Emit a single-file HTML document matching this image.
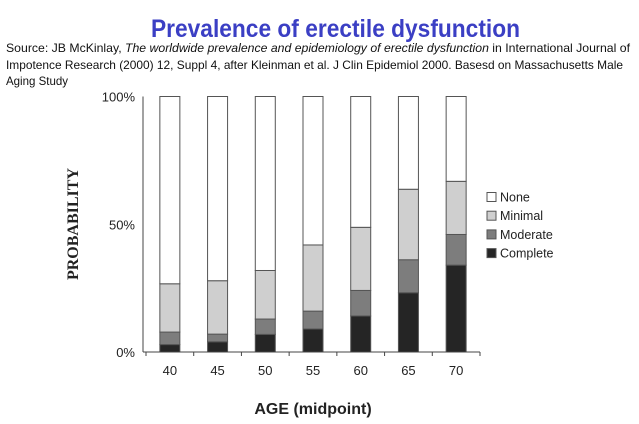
<!DOCTYPE html>
<html><head><meta charset="utf-8"><style>
body{margin:0;background:#fff;}
#wrap{position:relative;width:639px;height:424px;overflow:hidden;font-family:"Liberation Sans",sans-serif;}
</style></head><body>
<div id="wrap">
<svg id="header" width="639" height="90" style="position:absolute;left:0;top:0;" font-family="Liberation Sans, sans-serif">
<text x="151" y="37" textLength="369" lengthAdjust="spacingAndGlyphs" font-size="25" font-weight="bold" fill="#3b3fc4">Prevalence of erectile dysfunction</text>
<text x="6" y="52" textLength="624" lengthAdjust="spacingAndGlyphs" font-size="12" fill="#111">Source: JB McKinlay, <tspan font-style="italic">The worldwide prevalence and epidemiology of erectile dysfunction</tspan> in International Journal of</text>
<text x="6" y="69" textLength="617" lengthAdjust="spacingAndGlyphs" font-size="12" fill="#111">Impotence Research (2000) 12, Suppl 4, after Kleinman et al. J Clin Epidemiol 2000. Basesd on Massachusetts Male</text>
<text x="6" y="85" textLength="62" lengthAdjust="spacingAndGlyphs" font-size="12" fill="#111">Aging Study</text>
</svg>
<svg id="chart" width="639" height="424" style="position:absolute;left:0;top:0;" font-family="Liberation Sans, sans-serif"></svg>
</div>
<script>
const ages=["40","45","50","55","60","65","70"];
const complete=[2.9,4.0,6.9,9.0,14.1,23.2,34.0];
const moderate=[4.9,3.0,6.0,7.0,10.0,12.9,12.0];
const minimal=[18.9,20.9,19.0,25.9,24.7,27.6,20.8];
const yTicks=[0,50,100];
const seriesNames=["None","Minimal","Moderate","Complete"];
const NS="http://www.w3.org/2000/svg";
const svg=document.getElementById('chart');
const x0=146,x1=480,yBase=352,yTop=96.5;
const band=(x1-x0)/ages.length;
const xC=i=>x0+band*(i+0.5);
const y=v=>yBase-(yBase-yTop)*v/100;
function mk(t,a){const e=document.createElementNS(NS,t);for(const k in a)e.setAttribute(k,a[k]);svg.appendChild(e);return e;}
const colors={None:"#ffffff",Minimal:"#cfcfcf",Moderate:"#7d7d7d",Complete:"#252525"};
const bw=20;
ages.forEach((a,i)=>{
  const segs=[["Complete",complete[i]],["Moderate",moderate[i]],["Minimal",minimal[i]]];
  let acc=0;
  segs.forEach(([n,v])=>{
    const r=mk('rect',{x:xC(i)-bw/2,y:y(acc+v),width:bw,height:y(acc)-y(acc+v),fill:colors[n],stroke:"#555","stroke-width":1});
    
    
    acc+=v;
  });
  const r=mk('rect',{x:xC(i)-bw/2,y:y(100),width:bw,height:y(acc)-y(100),fill:colors.None,stroke:"#555","stroke-width":1});
  
  
  const t=mk('text',{x:xC(i),y:375,'text-anchor':'middle','font-size':13,fill:'#222'});
  t.textContent=a;
  
  
});
const ax=mk('line',{x1:x0-3,y1:yTop,x2:x0-3,y2:yBase,stroke:'#444','stroke-width':1});


const bx=mk('line',{x1:x0-3,y1:yBase,x2:x1,y2:yBase,stroke:'#444','stroke-width':1});


for(let i=0;i<=ages.length;i++){
  const tk=mk('line',{x1:x0+band*i,y1:yBase,x2:x0+band*i,y2:yBase+4,stroke:'#444'});
  
  
}
yTicks.forEach(v=>{
  const t=mk('text',{x:135,y:y(v)+5,'text-anchor':'end','font-size':13,fill:'#222'});
  t.textContent=v+'%';
  
  
});
const yt=mk('text',{x:0,y:0,transform:'translate(78,224) rotate(-90)','text-anchor':'middle','font-size':16,'font-weight':'bold','font-family':'Liberation Serif, serif',fill:'#222'});
yt.textContent='PROBABILITY';


const xt=mk('text',{x:313,y:414,'text-anchor':'middle','font-size':16,'font-weight':'bold',fill:'#222'});
xt.textContent='AGE (midpoint)';


seriesNames.forEach((n,i)=>{
  const yy=197+i*18.7;
  const s=mk('rect',{x:487,y:yy-4.5,width:9,height:9,fill:colors[n],stroke:'#555'});
  
  
  const t=mk('text',{x:500,y:yy+4.5,'font-size':12.5,fill:'#222'});
  t.textContent=n;
  
  
});
</script>
</body></html>
